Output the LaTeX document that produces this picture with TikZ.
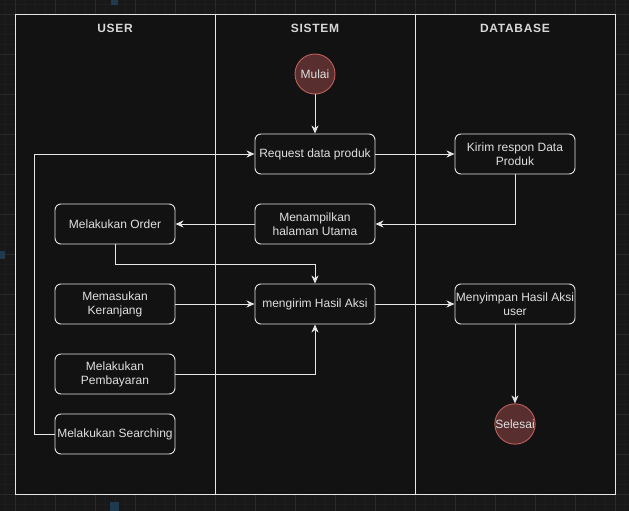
\documentclass[tikz,border=0pt]{standalone}
\usepackage{fontspec}
\setmainfont{Liberation Sans}
\newfontfamily\titlefont[LetterSpace=6]{Liberation Sans}
\usetikzlibrary{arrows.meta}
\definecolor{bgout}{HTML}{181818}
\definecolor{gridmin}{HTML}{1D1D1D}
\definecolor{gridmaj}{HTML}{2A2A2A}
\definecolor{inner}{HTML}{121212}
\definecolor{linec}{HTML}{E6E6E6}
\definecolor{txt}{HTML}{E0E0E0}
\definecolor{ttxt}{HTML}{D8D8D8}
\definecolor{circfill}{HTML}{582E2E}
\definecolor{circline}{HTML}{C0605A}
\definecolor{bluemk}{HTML}{1F3A4F}
\tikzset{
  stepbox/.style={draw=linec, line width=0.9pt, rounded corners=6pt, minimum width=120pt, minimum height=40pt,
    inner sep=1pt, text=txt, align=center, font=\fontsize{12}{14}\selectfont, fill=inner},
  endcirc/.style={circle, draw=circline, fill=circfill, line width=0.9pt, minimum size=40pt, inner sep=0pt,
    text=txt, font=\fontsize{12}{14}\selectfont},
  arr/.style={draw=linec, line width=0.9pt, -{Stealth[length=8pt,width=7pt,inset=2.5pt]}},
  lanetitle/.style={text=ttxt, font=\titlefont\bfseries\fontsize{12}{14}\selectfont},
}
\begin{document}
\begin{tikzpicture}[x=1pt,y=-1pt]
\useasboundingbox (0,0) rectangle (629,511);
\fill[bgout] (0,0) rectangle (629,511);
\foreach \x in {5,25,...,625} \draw[gridmin, line width=0.6pt] (\x,0) -- (\x,511);
\foreach \x in {15,35,...,625} \draw[gridmin, line width=0.6pt] (\x,0) -- (\x,511);
\foreach \y in {4,24,...,511} \draw[gridmin, line width=0.6pt] (0,\y) -- (629,\y);
\foreach \y in {14,34,...,511} \draw[gridmin, line width=0.6pt] (0,\y) -- (629,\y);
\foreach \x in {15,55,...,625} \draw[gridmaj, line width=0.8pt] (\x,0) -- (\x,511);
\foreach \y in {14,54,...,511} \draw[gridmaj, line width=0.8pt] (0,\y) -- (629,\y);
\fill[bluemk] (111,0) rectangle (118,5);
\fill[bluemk] (110,502) rectangle (119,511);
\fill[bluemk] (0,251) rectangle (5,259);
% frame
\fill[inner] (15,14) rectangle (615,494);
\draw[linec, line width=0.9pt] (15,14) rectangle (615,494);
\draw[linec, line width=0.9pt] (215,14) -- (215,494);
\draw[linec, line width=0.9pt] (415,14) -- (415,494);
\node[lanetitle] (tuser) at (115,28) {USER};
\node[lanetitle] (tsis) at (315,28) {SISTEM};
\node[lanetitle] (tdb) at (515,28) {DATABASE};
% nodes
\node[endcirc] (mulai) at (315,74) {Mulai};
\node[stepbox] (req) at (315,154) {Request data produk};
\node[stepbox] (kirim) at (515,154) {Kirim respon Data\\Produk};
\node[stepbox] (tampil) at (315,224) {Menampilkan\\halaman Utama};
\node[stepbox] (order) at (115,224) {Melakukan Order};
\node[stepbox] (kerj) at (115,304) {Memasukan\\Keranjang};
\node[stepbox] (hasil) at (315,304) {mengirim Hasil Aksi};
\node[stepbox] (simpan) at (515,304) {Menyimpan Hasil Aksi\\user};
\node[stepbox] (bayar) at (115,374) {Melakukan\\Pembayaran};
\node[stepbox] (cari) at (115,434) {Melakukan Searching};
\node[endcirc] (selesai) at (515,424) {Selesai};
% edges
\draw[arr] (mulai) -- (req);
\draw[arr] (req) -- (kirim);
\draw[arr] (kirim.south) |- (tampil.east);
\draw[arr] (tampil) -- (order);
\draw[arr] (order.south) -- ++(0,20) -| (hasil.north);
\draw[arr] (kerj) -- (hasil);
\draw[arr] (bayar.east) -| (hasil.south);
\draw[arr] (cari.west) -- ++(-20,0) |- (req.west);
\draw[arr] (hasil) -- (simpan);
\draw[arr] (simpan) -- (selesai);
\end{tikzpicture}
\end{document}
